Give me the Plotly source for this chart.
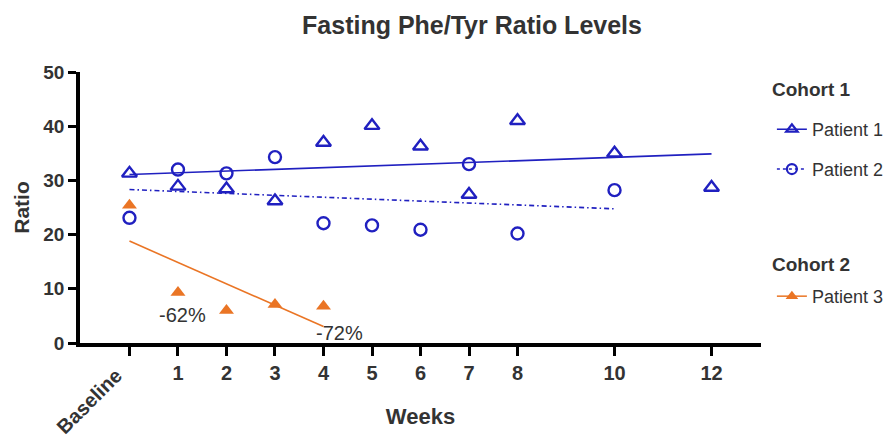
import numpy as np
import plotly.graph_objects as go

# ---- data ----
tick_vals = [0, 1, 2, 3, 4, 5, 6, 7, 8, 10, 12]
tick_text = ["Baseline", "1", "2", "3", "4", "5", "6", "7", "8", "10", "12"]

p1_weeks = [0, 1, 2, 3, 4, 5, 6, 7, 8, 10, 12]
p1_ratio = [31.3, 28.9, 28.4, 26.2, 37.0, 40.1, 36.3, 27.4, 41.0, 35.0, 28.7]

p2_weeks = [0, 1, 2, 3, 4, 5, 6, 7, 8, 10]
p2_ratio = [23.1, 32.0, 31.3, 34.3, 22.1, 21.7, 20.9, 33.0, 20.2, 28.2]

p3_weeks = [0, 1, 2, 3, 4]
p3_ratio = [25.4, 9.3, 6.0, 7.1, 6.8]

cohort_titles = ["Cohort 1", "Cohort 2"]
patient_names = ["Patient 1", "Patient 2", "Patient 3"]
pct_labels = ["-62%", "-72%"]

BLUE = "#2020c0"
ORANGE = "#ea7525"
TXT = "#333333"
FONT = "Liberation Sans, Arial, sans-serif"


def fit_line(xs, ys):
    k, b = np.polyfit(xs, ys, 1)
    xe = [min(xs), max(xs)]
    return xe, [k * v + b for v in xe]


fig = go.Figure()

DASHDOT = "5px,3px,1.5px,3px"

# trend lines
for xs, ys, col, dash in [
    (p1_weeks, p1_ratio, BLUE, "solid"),
    (p2_weeks, p2_ratio, BLUE, DASHDOT),
    (p3_weeks, p3_ratio, ORANGE, "solid"),
]:
    fx, fy = fit_line(xs, ys)
    fig.add_trace(go.Scatter(x=fx, y=fy, mode="lines",
                             line=dict(color=col, width=1.6, dash=dash),
                             showlegend=False, hoverinfo="skip"))

# data points
fig.add_trace(go.Scatter(x=p1_weeks, y=p1_ratio, mode="markers", showlegend=False,
                         marker=dict(symbol="triangle-up-open", size=13, color=BLUE,
                                     line=dict(width=2.4, color=BLUE))))
fig.add_trace(go.Scatter(x=p2_weeks, y=p2_ratio, mode="markers", showlegend=False,
                         marker=dict(symbol="circle-open", size=12, color=BLUE,
                                     line=dict(width=2.4, color=BLUE))))
fig.add_trace(go.Scatter(x=p3_weeks, y=p3_ratio, mode="markers", showlegend=False,
                         marker=dict(symbol="triangle-up", size=13, color=ORANGE)))

# legend entries (one small legend per patient)
fig.add_trace(go.Scatter(x=[None], y=[None], mode="lines+markers", name=patient_names[0],
                         legend="legend",
                         line=dict(color=BLUE, width=1.5),
                         marker=dict(symbol="triangle-up-open", size=10, color=BLUE,
                                     line=dict(width=2.2, color=BLUE))))
fig.add_trace(go.Scatter(x=[None], y=[None], mode="lines+markers", name=patient_names[1],
                         legend="legend2",
                         line=dict(color=BLUE, width=1.5, dash="dot"),
                         marker=dict(symbol="circle-open", size=10, color=BLUE,
                                     line=dict(width=2.2, color=BLUE))))
fig.add_trace(go.Scatter(x=[None], y=[None], mode="lines+markers", name=patient_names[2],
                         legend="legend3",
                         line=dict(color=ORANGE, width=1.5),
                         marker=dict(symbol="triangle-up", size=11, color=ORANGE)))

# cohort titles for the legend
for txt, yy in zip(cohort_titles, [0.934, 0.288]):
    fig.add_annotation(x=1.013, y=yy, xref="paper", yref="paper", text=txt,
                       xanchor="left", yanchor="middle", showarrow=False,
                       font=dict(size=19, color=TXT, family=FONT, weight="bold"))

# percentage labels
fig.add_annotation(x=1.10, y=5.16, text=pct_labels[0], showarrow=False,
                   font=dict(size=20, color=TXT, family=FONT))
fig.add_annotation(x=4.34, y=1.84, text=pct_labels[1], showarrow=False,
                   font=dict(size=20, color=TXT, family=FONT))

# rotated Baseline tick label
fig.add_annotation(x=tick_vals[0], y=0, xref="x", yref="paper", text=tick_text[0],
                   textangle=-45, showarrow=False, xshift=-40, yshift=-58,
                   xanchor="center", yanchor="middle",
                   font=dict(size=20, color=TXT, family=FONT, weight="bold"))

leg_common = dict(xanchor="left", yanchor="top", bgcolor="rgba(0,0,0,0)",
                  font=dict(size=18, color=TXT, family=FONT), itemwidth=30)

# the page body adds an 8px offset, so the figure is laid out 8px up/left
fig.update_layout(
    width=893, height=438,
    margin=dict(l=72, r=140, t=64, b=103, autoexpand=False),
    paper_bgcolor="white", plot_bgcolor="white",
    font=dict(family=FONT, color=TXT),
    title=dict(text="<b>Fasting Phe/Tyr Ratio Levels</b>", x=0.5196, xref="container",
               xanchor="center", y=0.961, yanchor="middle",
               font=dict(size=25, color=TXT, family=FONT)),
    legend=dict(x=1.016, y=0.856, **leg_common),
    legend2=dict(x=1.016, y=0.709, **leg_common),
    legend3=dict(x=1.016, y=0.240, **leg_common),
)

fig.update_xaxes(range=[-1.02, 13.02], tickmode="array", tickvals=tick_vals,
                 ticktext=[""] + tick_text[1:], automargin=False,
                 showline=True, linecolor="black", linewidth=3.5,
                 ticks="outside", ticklen=9, tickwidth=3, tickcolor="black",
                 showgrid=False, zeroline=False,
                 tickfont=dict(size=20, color=TXT, family=FONT, weight="bold"),
                 title=dict(text="<b>Weeks</b>", font=dict(size=22, color=TXT, family=FONT),
                            standoff=27))
fig.update_yaxes(range=[0, 50], tickvals=[0, 10, 20, 30, 40, 50], automargin=False,
                 showline=True, linecolor="black", linewidth=3.5,
                 ticks="outside", ticklen=8, tickwidth=3, tickcolor="black",
                 showgrid=False, zeroline=False,
                 tickfont=dict(size=19, color=TXT, family=FONT, weight="bold"),
                 title=dict(text="<b>Ratio</b>", font=dict(size=21, color=TXT, family=FONT),
                            standoff=9))

fig.write_html("out.html")
